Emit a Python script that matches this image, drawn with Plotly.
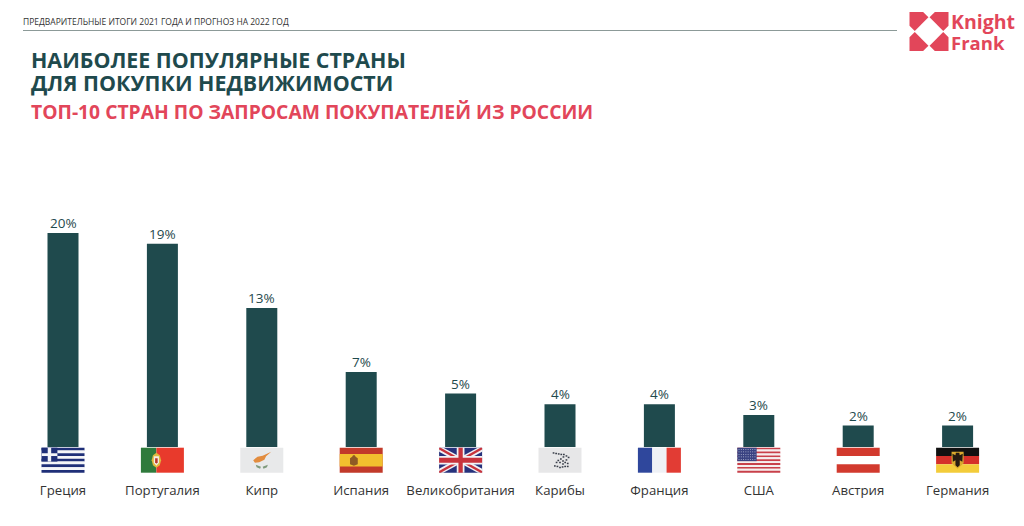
import plotly.graph_objects as go

categories = ["Греция", "Португалия", "Кипр", "Испания", "Великобритания",
              "Карибы", "Франция", "США", "Австрия", "Германия"]
values = [20, 19, 13, 7, 5, 4, 4, 3, 2, 2]
header_text = "ПРЕДВАРИТЕЛЬНЫЕ ИТОГИ 2021 ГОДА И ПРОГНОЗ НА 2022 ГОД"
title_lines = ["НАИБОЛЕЕ ПОПУЛЯРНЫЕ СТРАНЫ", "ДЛЯ ПОКУПКИ НЕДВИЖИМОСТИ"]
subtitle_text = "ТОП-10 СТРАН ПО ЗАПРОСАМ ПОКУПАТЕЛЕЙ ИЗ РОССИИ"
logo_lines = ["Knight", "Frank"]

W, H = 1024, 526
DARK = "#1f4a4d"
RED = "#e2465a"
FONT = "Open Sans"
X0, STEP = 13.3, 99.4
BASE, PX_PER = 447.0, 10.7
YMAX = 22

shapes = []


def path(points, color):
    d = "M" + " L".join(f"{x / W:.5f},{1 - y / H:.5f}" for x, y in points) + " Z"
    shapes.append(dict(type="path", xref="paper", yref="paper", path=d,
                       fillcolor=color, line=dict(width=0), layer="above"))


def flag_tools(i):
    fx = X0 + (i + 0.5) * STEP - 21.5
    fy, fw, fh = 447.7, 43.0, 25.0

    def poly(pts, color):
        path([(fx + u * fw, fy + v * fh) for u, v in pts], color)

    def rect(u0, v0, u1, v1, color):
        poly([(u0, v0), (u1, v0), (u1, v1), (u0, v1)], color)

    return poly, rect


def greece(poly, rect):
    blue, white = "#1f2f78", "#f4f5f8"
    for k in range(9):
        rect(0, k / 9, 1, (k + 1) / 9, blue if k % 2 == 0 else white)
    rect(0, 0, 0.37, 5 / 9, blue)
    rect(0.145, 0, 0.225, 5 / 9, white)
    rect(0, 2 / 9, 0.37, 3 / 9, white)


def portugal(poly, rect):
    rect(0, 0, 0.36, 1, "#2f7a3c")
    rect(0.36, 0, 1, 1, "#e83a2c")
    poly([(0.36, 0.2), (0.44, 0.3), (0.47, 0.5), (0.44, 0.7), (0.36, 0.8),
          (0.28, 0.7), (0.25, 0.5), (0.28, 0.3)], "#e0b93e")
    poly([(0.30, 0.34), (0.42, 0.34), (0.42, 0.6), (0.36, 0.72), (0.30, 0.6)], "#f3eee4")
    poly([(0.33, 0.42), (0.39, 0.42), (0.39, 0.58), (0.36, 0.64), (0.33, 0.58)], "#b8352c")


def cyprus(poly, rect):
    rect(0, 0, 1, 1, "#e8e9ea")
    poly([(0.30, 0.50), (0.40, 0.36), (0.52, 0.32), (0.72, 0.16), (0.60, 0.34),
          (0.56, 0.48), (0.44, 0.58), (0.34, 0.60)], "#e28c3e")
    poly([(0.36, 0.68), (0.48, 0.76), (0.46, 0.84), (0.38, 0.78)], "#7f9a7c")
    poly([(0.64, 0.68), (0.52, 0.76), (0.54, 0.84), (0.62, 0.78)], "#7f9a7c")


def spain(poly, rect):
    rect(0, 0, 1, 1, "#c23a2a")
    rect(0, 0.25, 1, 0.75, "#f2c02e")
    poly([(0.24, 0.42), (0.29, 0.36), (0.31, 0.3), (0.35, 0.3), (0.37, 0.36),
          (0.42, 0.42), (0.42, 0.66), (0.33, 0.72), (0.24, 0.66)], "#8f5a24")


def uk(poly, rect):
    blue, white, red = "#26327c", "#f2f2f4", "#c8333c"
    rect(0, 0, 1, 1, blue)
    poly([(0, 0), (0.1, 0), (1, 0.84), (1, 1), (0.9, 1), (0, 0.16)], white)
    poly([(1, 0), (0.9, 0), (0, 0.84), (0, 1), (0.1, 1), (1, 0.16)], white)
    poly([(0, 0), (0.04, 0), (1, 0.93), (1, 1), (0.96, 1), (0, 0.07)], red)
    poly([(1, 0), (0.96, 0), (0, 0.93), (0, 1), (0.04, 1), (1, 0.07)], red)
    rect(0.41, 0, 0.59, 1, white)
    rect(0, 0.33, 1, 0.67, white)
    rect(0.45, 0, 0.55, 1, red)
    rect(0, 0.40, 1, 0.60, red)


def caribbean(poly, rect):
    rect(0, 0, 1, 1, "#e7e7e8")
    dots = [(0.33, 0.18), (0.39, 0.2), (0.45, 0.22), (0.51, 0.24), (0.57, 0.24),
            (0.63, 0.3), (0.68, 0.36), (0.56, 0.34), (0.5, 0.42), (0.44, 0.48),
            (0.4, 0.56), (0.48, 0.56), (0.55, 0.5), (0.6, 0.56), (0.66, 0.6),
            (0.36, 0.7), (0.42, 0.72), (0.48, 0.76), (0.54, 0.74), (0.6, 0.72),
            (0.66, 0.72), (0.55, 0.62), (0.63, 0.46)]
    for u, v in dots:
        rect(u, v, u + 0.04, v + 0.06, "#3a3f4a")


def france(poly, rect):
    rect(0, 0, 1 / 3, 1, "#2f479c")
    rect(1 / 3, 0, 2 / 3, 1, "#eff1f6")
    rect(2 / 3, 0, 1, 1, "#e23c34")


def usa(poly, rect):
    for k in range(13):
        rect(0, k / 13, 1, (k + 1) / 13, "#c8404a" if k % 2 == 0 else "#f5eeee")
    rect(0, 0, 0.45, 7 / 13, "#3a4382")
    for r in range(5):
        for c in range(8):
            u, v = 0.03 + c * 0.053, 0.05 + r * 0.1
            rect(u, v, u + 0.02, v + 0.035, "#c9cde2")


def austria(poly, rect):
    rect(0, 0, 1, 1 / 3, "#d23a2e")
    rect(0, 2 / 3, 1, 1, "#d23a2e")


def germany(poly, rect):
    rect(0, 0, 1, 1 / 3, "#111111")
    rect(0, 1 / 3, 1, 2 / 3, "#d5302a")
    rect(0, 2 / 3, 1, 1, "#f3cc3a")
    poly([(0.36, 0.16), (0.64, 0.16), (0.64, 0.62), (0.5, 0.84), (0.36, 0.62)], "#d9a92e")
    poly([(0.46, 0.2), (0.54, 0.2), (0.55, 0.3), (0.62, 0.24), (0.61, 0.56), (0.55, 0.5),
          (0.55, 0.7), (0.5, 0.78), (0.45, 0.7), (0.45, 0.5), (0.39, 0.56), (0.38, 0.24),
          (0.45, 0.3)], "#241a12")


flag_painters = [greece, portugal, cyprus, spain, uk, caribbean, france, usa, austria, germany]
for i, paint in enumerate(flag_painters):
    paint(*flag_tools(i))

# rule under the header
shapes.append(dict(type="line", xref="paper", yref="paper", x0=23 / W, x1=897 / W,
                   y0=1 - 30.5 / H, y1=1 - 30.5 / H, line=dict(color="#8c9a98", width=1.2)))

# logo mark
LX, LY, LS = 909.5, 12.0, 39.0


def logo_piece(pts):
    path([(LX + u * LS, LY + v * LS) for u, v in pts], RED)


tl = [(0, 0), (0.35, 0), (0.485, 0.135), (0.135, 0.485), (0, 0.35)]
logo_piece(tl)
logo_piece([(1 - u, v) for u, v in tl])
logo_piece([(u, 1 - v) for u, v in tl])
logo_piece([(1 - u, 1 - v) for u, v in tl])


def note(x, y, text, size, color, bold=False):
    return dict(xref="paper", yref="paper", x=x / W, y=1 - y / H, xanchor="left", yanchor="middle",
                text=f"<b>{text}</b>" if bold else text, showarrow=False, borderpad=0, borderwidth=0,
                font=dict(family=FONT, size=size, color=color))


annotations = [
    note(23, 21.5, header_text, 8.5, "#333333"),
    note(31, 59, title_lines[0], 21.4, DARK, True),
    note(31, 82.5, title_lines[1], 21.4, DARK, True),
    note(31, 111.5, subtitle_text, 19.3, RED, True),
    note(951, 21.5, logo_lines[0], 19.5, RED, True),
    note(951, 42, logo_lines[1], 18.5, RED, True),
]
# value labels sit just above their bars
for cat, val in zip(categories, values):
    annotations.append(dict(x=cat, y=val, xref="x", yref="y", text=f"{val}%", showarrow=False,
                            xanchor="center", yanchor="bottom", yshift=0, borderpad=0,
                            font=dict(family=FONT, size=13.5, color=DARK)))

fig = go.Figure(go.Bar(
    x=categories, y=values, width=31 / STEP, marker=dict(color=DARK, line=dict(width=0)),
    cliponaxis=False, hoverinfo="skip",
))
fig.update_layout(
    width=W, height=H, autosize=False, margin=dict(l=0, r=0, t=0, b=0),
    paper_bgcolor="white", plot_bgcolor="white", showlegend=False,
    shapes=shapes, annotations=annotations,
    xaxis=dict(domain=[X0 / W, (X0 + 10 * STEP) / W], type="category", range=[-0.5, 9.5],
               showgrid=False, zeroline=False, showline=False,
               ticks="outside", ticklen=31, tickcolor="rgba(0,0,0,0)",
               tickangle=0, tickfont=dict(family=FONT, size=13.2, color="#333333")),
    yaxis=dict(domain=[1 - BASE / H, 1 - (BASE - YMAX * PX_PER) / H], range=[0, YMAX],
               visible=False),
)
fig.write_html("out.html", config={"displayModeBar": False},
               post_script="document.body.style.margin='0';document.body.style.overflow='hidden';")
